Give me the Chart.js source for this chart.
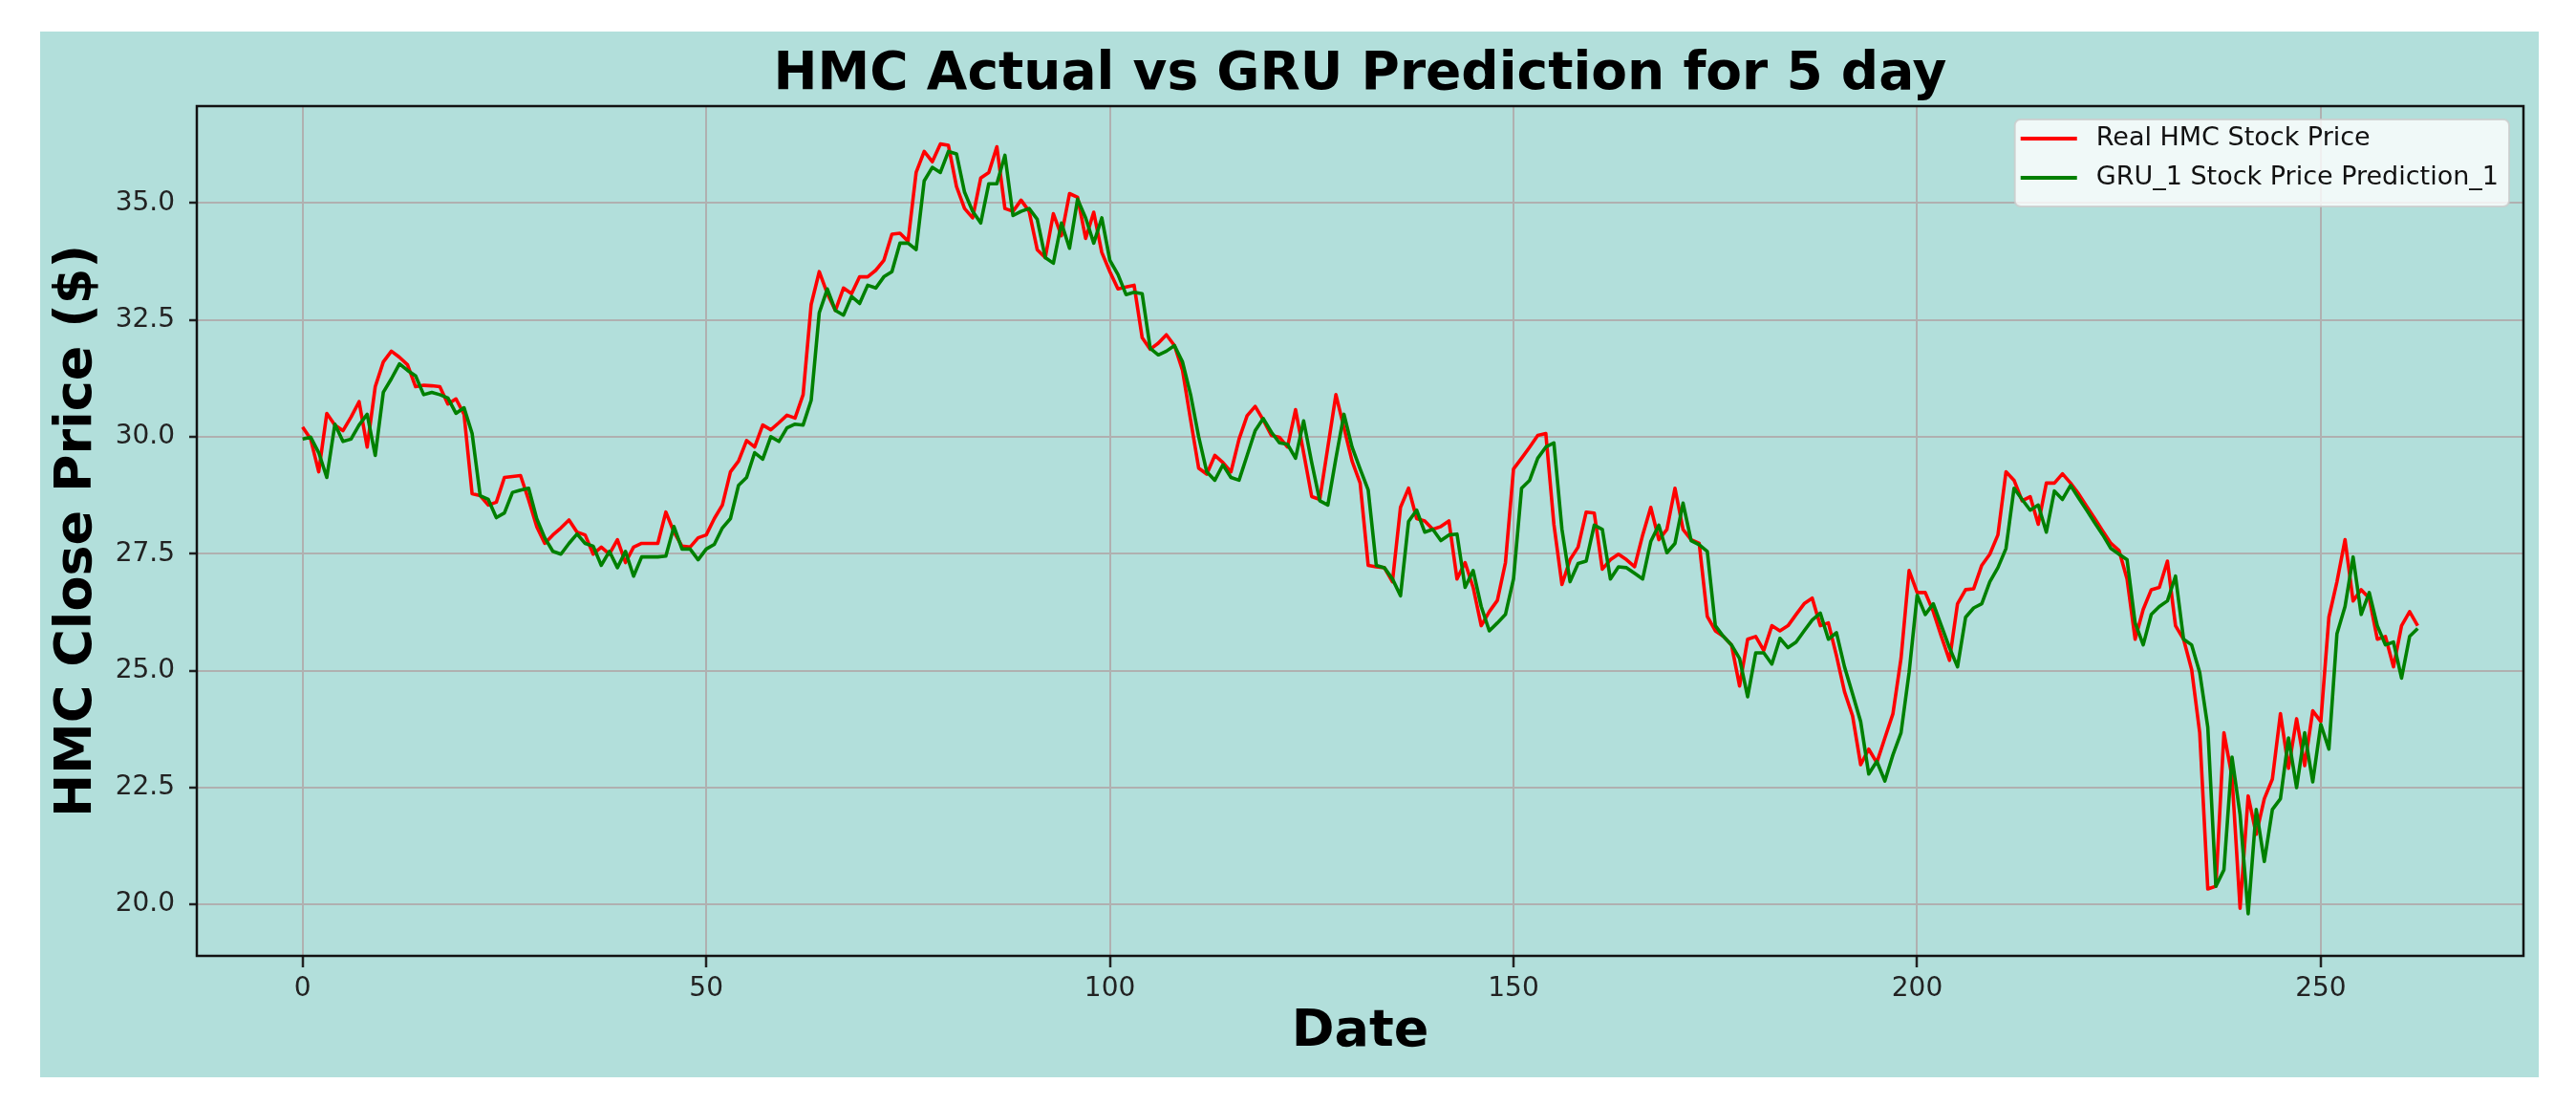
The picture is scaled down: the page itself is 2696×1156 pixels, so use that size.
<!DOCTYPE html>
<html>
<head>
<meta charset="utf-8">
<title>HMC Actual vs GRU Prediction</title>
<script src="https://cdn.jsdelivr.net/npm/chart.js@4.4.0/dist/chart.umd.min.js"></script>
<style>
  html, body { margin: 0; padding: 0; background: #fff; overflow: hidden; }
</style>
</head>
<body>
<canvas id="myChart" width="2696" height="1156"></canvas>
<script>

/* real close price, one value per day */
const actual = [
  30.21, 29.95, 29.25, 30.5, 30.25, 30.13, 30.42, 30.75, 29.78, 31.07,
  31.6, 31.83, 31.7, 31.54, 31.07, 31.1, 31.09, 31.07, 30.7, 30.81,
  30.48, 28.78, 28.74, 28.54, 28.6, 29.13, 29.15, 29.17, 28.65, 28.08,
  27.72, 27.9, 28.05, 28.22, 27.96, 27.9, 27.49, 27.64, 27.49, 27.8,
  27.31, 27.64, 27.72, 27.72, 27.72, 28.39, 27.96, 27.66, 27.64, 27.84,
  27.9, 28.25, 28.54, 29.25, 29.48, 29.92, 29.78, 30.25, 30.15, 30.3,
  30.46, 30.4, 30.9, 32.83, 33.53, 33.06, 32.7, 33.18, 33.06, 33.42,
  33.42, 33.56, 33.77, 34.33, 34.35, 34.18, 35.65, 36.1, 35.88, 36.26,
  36.23, 35.35, 34.88, 34.68, 35.53, 35.65, 36.2, 34.88, 34.82, 35.06,
  34.82, 34.0, 33.83, 34.77, 34.3, 35.2, 35.12, 34.24, 34.8, 33.94,
  33.53, 33.16, 33.2, 33.24, 32.12, 31.87, 32.0, 32.18, 31.95, 31.42,
  30.36, 29.33, 29.2, 29.6, 29.45, 29.25, 29.95, 30.45, 30.65, 30.36,
  30.03, 29.99, 29.78, 30.58, 29.66, 28.72, 28.66, 29.78, 30.9, 30.19,
  29.48, 29.01, 27.25, 27.22, 27.2, 26.9, 28.49, 28.9, 28.25, 28.2,
  28.02, 28.08, 28.2, 26.96, 27.31, 26.78, 25.96, 26.26, 26.5, 27.31,
  29.31, 29.54, 29.78, 30.03, 30.07, 28.13, 26.84, 27.37, 27.64, 28.39,
  28.37, 27.17, 27.37, 27.49, 27.37, 27.22, 27.9, 28.49, 27.8, 28.02,
  28.9, 28.02, 27.8, 27.72, 26.16, 25.85, 25.73, 25.55, 24.67, 25.67,
  25.73, 25.43, 25.96, 25.85, 25.96, 26.2, 26.43, 26.55, 25.96, 26.02,
  25.32, 24.55, 24.03, 22.99, 23.32, 23.03, 23.56, 24.08, 25.26, 27.14,
  26.67, 26.67, 26.26, 25.73, 25.22, 26.43, 26.73, 26.75, 27.25, 27.49,
  27.9, 29.25, 29.07, 28.63, 28.72, 28.13, 29.01, 29.01, 29.21, 29.01,
  28.78, 28.51, 28.25, 27.98, 27.72, 27.57, 26.96, 25.67, 26.31, 26.73,
  26.78, 27.34, 25.96, 25.67, 25.02, 23.67, 20.33, 20.39, 23.67, 22.73,
  19.92, 22.32, 21.5, 22.26, 22.68, 24.08, 22.91, 23.97, 22.97, 24.14,
  23.91, 26.14, 26.9, 27.8, 26.49, 26.73, 26.55, 25.67, 25.73, 25.08,
  25.96, 26.26, 25.96
];

/* GRU prediction, same days */
const predicted = [
  29.95, 29.99, 29.66, 29.13, 30.27, 29.9, 29.95, 30.25, 30.48, 29.6,
  30.95, 31.24, 31.56, 31.42, 31.3, 30.9, 30.95, 30.9, 30.83, 30.5,
  30.62, 30.07, 28.74, 28.66, 28.27, 28.37, 28.81, 28.86, 28.9, 28.25,
  27.84, 27.55, 27.49, 27.72, 27.92, 27.72, 27.66, 27.25, 27.55, 27.2,
  27.55, 27.02, 27.43, 27.43, 27.43, 27.45, 28.08, 27.6, 27.6, 27.37,
  27.6, 27.7, 28.05, 28.25, 28.96, 29.13, 29.66, 29.52, 30.0, 29.9,
  30.19, 30.27, 30.25, 30.78, 32.65, 33.16, 32.7, 32.6, 33.0, 32.85,
  33.24, 33.18, 33.42, 33.53, 34.14, 34.14, 34.0, 35.47, 35.76, 35.65,
  36.1, 36.05, 35.23, 34.82, 34.57, 35.41, 35.41, 36.02, 34.73, 34.82,
  34.88, 34.65, 33.83, 33.71, 34.57, 34.03, 35.08, 34.68, 34.14, 34.68,
  33.77, 33.47, 33.04, 33.09, 33.06, 31.89, 31.75, 31.83, 31.95, 31.6,
  30.9, 30.0, 29.25, 29.07, 29.4, 29.13, 29.07, 29.6, 30.13, 30.39,
  30.1, 29.87, 29.84, 29.54, 30.34, 29.45, 28.63, 28.54, 29.54, 30.48,
  29.78, 29.31, 28.86, 27.25, 27.2, 26.96, 26.6, 28.19, 28.43, 27.96,
  28.02, 27.78, 27.9, 27.92, 26.78, 27.14, 26.37, 25.85, 26.02, 26.2,
  26.96, 28.9, 29.07, 29.54, 29.78, 29.87, 28.02, 26.9, 27.29, 27.34,
  28.11, 28.02, 26.96, 27.22, 27.2, 27.08, 26.96, 27.76, 28.11, 27.52,
  27.72, 28.58, 27.78, 27.69, 27.55, 25.96, 25.73, 25.55, 25.26, 24.44,
  25.38, 25.38, 25.14, 25.69, 25.49, 25.61, 25.85, 26.08, 26.23, 25.67,
  25.81, 25.08, 24.5, 23.91, 22.79, 23.06, 22.64, 23.2, 23.67, 24.96,
  26.61, 26.2, 26.43, 25.96, 25.49, 25.08, 26.14, 26.34, 26.43, 26.9,
  27.2, 27.61, 28.9, 28.66, 28.43, 28.54, 27.96, 28.84, 28.66, 28.96,
  28.69, 28.43, 28.16, 27.9, 27.61, 27.49, 27.37, 26.02, 25.55, 26.2,
  26.37, 26.49, 27.02, 25.67, 25.55, 24.96, 23.79, 20.39, 20.74, 23.15,
  21.92, 19.8, 22.03, 20.92, 22.03, 22.26, 23.56, 22.5, 23.67, 22.62,
  23.85, 23.32, 25.79, 26.37, 27.43, 26.2, 26.67, 25.96, 25.55, 25.61,
  24.84, 25.73, 25.9
];

const days = actual.map((v, i) => i);
const xTicks = [0, 50, 100, 150, 200, 250];
const yTicks = [20.0, 22.5, 25.0, 27.5, 30.0, 32.5, 35.0];
const seriesNames = ['Real HMC Stock Price', 'GRU_1 Stock Price Prediction_1'];
const seriesColors = ['#ff0000', '#008000'];
const chartTitle = 'HMC Actual vs GRU Prediction for 5 day';

const FONT = "'DejaVu Sans', 'Liberation Sans', sans-serif";

// white page with teal figure patch
const background = {
    id: 'background',
    beforeDraw(chart) {
        const ctx = chart.ctx;
        ctx.save();
        ctx.fillStyle = '#ffffff';
        ctx.fillRect(0, 0, chart.width, chart.height);
        ctx.fillStyle = '#b2dfdb';
        ctx.fillRect(42, 33, 2615, 1094);
        ctx.restore();
    }
};

// black box round the plot, on top of the lines like matplotlib spines
const frame = {
    id: 'frame',
    afterDatasetsDraw(chart) {
        const {ctx, chartArea} = chart;
        ctx.save();
        ctx.strokeStyle = '#111';
        ctx.lineWidth = 2.5;
        ctx.strokeRect(chartArea.left, chartArea.top,
            chartArea.right - chartArea.left, chartArea.bottom - chartArea.top);
        ctx.restore();
    }
};

// title centred over the plot, not the canvas
const plotTitle = {
    id: 'plotTitle',
    afterDraw(chart) {
        const {ctx, chartArea} = chart;
        ctx.save();
        ctx.font = 'bold 55px ' + FONT;
        ctx.fillStyle = '#000';
        ctx.textAlign = 'center';
        ctx.textBaseline = 'alphabetic';
        ctx.fillText(chartTitle, (chartArea.left + chartArea.right) / 2, 93);
        ctx.restore();
    }
};

// legend box in the upper right corner of the plot
const legendBox = {
    id: 'legendBox',
    afterDraw(chart) {
        const {ctx, chartArea} = chart;
        ctx.save();
        ctx.font = '27px ' + FONT;
        const textW = Math.max(...seriesNames.map(s => ctx.measureText(s).width));
        const w = 85 + textW + 11;
        const h = 91;
        const x = chartArea.right - 15 - w;
        const y = chartArea.top + 14;

        ctx.beginPath();
        ctx.roundRect(x, y, w, h, 6);
        ctx.fillStyle = 'rgba(255,255,255,0.8)';
        ctx.fill();
        ctx.strokeStyle = 'rgba(204,204,204,0.8)';
        ctx.lineWidth = 2;
        ctx.stroke();

        chart.data.datasets.forEach((ds, i) => {
            const cy = y + 20 + i * 41;
            ctx.beginPath();
            ctx.moveTo(x + 6, cy);
            ctx.lineTo(x + 65, cy);
            ctx.strokeStyle = ds.borderColor;
            ctx.lineWidth = 4;
            ctx.stroke();
            ctx.fillStyle = '#111';
            ctx.textAlign = 'left';
            ctx.textBaseline = 'middle';
            ctx.fillText(ds.label, x + 85, cy);
        });
        ctx.restore();
    }
};

const ctx = document.getElementById('myChart');

const dataset = {
    datasets: [{
        label: seriesNames[0],
        data: days.map((d, i) => ({x: d, y: actual[i]})),
        borderColor: seriesColors[0],
        borderWidth: 3.6,
        borderJoinStyle: 'round',
        pointRadius: 0,
        tension: 0,
        fill: false,
        order: 1
    }, {
        label: seriesNames[1],
        data: days.map((d, i) => ({x: d, y: predicted[i]})),
        borderColor: seriesColors[1],
        borderWidth: 3.6,
        borderJoinStyle: 'round',
        pointRadius: 0,
        tension: 0,
        fill: false,
        order: 0
    }]
};

const config = {
    type: 'line',
    data: dataset,
    plugins: [background, frame, plotTitle, legendBox],
    options: {
        responsive: false,
        animation: false,
        devicePixelRatio: 1,
        layout: { padding: { top: 111, right: 55, left: 0, bottom: 0 } },
        plugins: {
            legend: { display: false },
            title: { display: false },
            tooltip: { enabled: false }
        },
        scales: {
            x: {
                type: 'linear',
                min: -13.1,
                max: 275.1,
                afterFit: (scale) => { scale.height = 156; },
                afterBuildTicks: (scale) => { scale.ticks = xTicks.map(v => ({value: v})); },
                ticks: {
                    font: { family: FONT, size: 28 },
                    color: '#222',
                    padding: 6,
                    maxRotation: 0,
                    callback: (v) => String(v)
                },
                grid: {
                    color: '#b0b0b0',
                    lineWidth: 2,
                    tickColor: '#222',
                    tickLength: 12,
                    tickWidth: 2.5
                },
                border: { display: false },
                title: {
                    display: true,
                    text: 'Date',
                    color: '#000',
                    font: { family: FONT, size: 54, weight: 'bold' },
                    padding: { bottom: 44 }
                }
            },
            y: {
                type: 'linear',
                min: 18.9,
                max: 37.07,
                afterFit: (scale) => { scale.width = 206; },
                afterBuildTicks: (scale) => { scale.ticks = yTicks.map(v => ({value: v})); },
                ticks: {
                    font: { family: FONT, size: 28 },
                    color: '#222',
                    padding: 15,
                    callback: (v) => v.toFixed(1)
                },
                grid: {
                    color: '#b0b0b0',
                    lineWidth: 2,
                    tickColor: '#222',
                    tickLength: 8,
                    tickWidth: 2.5
                },
                border: { display: false },
                title: {
                    display: true,
                    text: 'HMC Close Price ($)',
                    color: '#000',
                    font: { family: FONT, size: 54, weight: 'bold' },
                    padding: { top: 49 }
                }
            }
        }
    }
};

const chart = new Chart(ctx, config);
</script>
</body>
</html>
